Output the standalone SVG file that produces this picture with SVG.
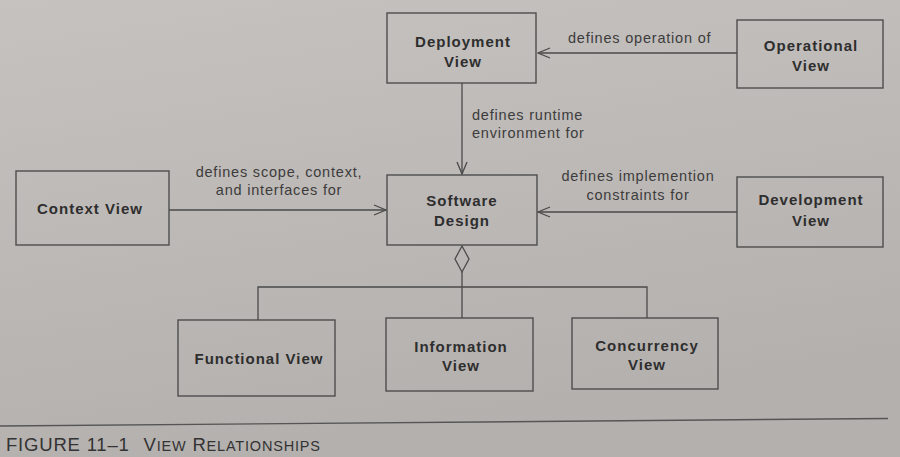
<svg xmlns="http://www.w3.org/2000/svg" width="900" height="457" viewBox="0 0 900 457">
<defs>
<linearGradient id="bg" x1="0" y1="0" x2="0.3" y2="1">
<stop offset="0" stop-color="#c6c2c0"/>
<stop offset="1" stop-color="#b4b0ae"/>
</linearGradient>
<marker id="open" viewBox="0 0 14 12" refX="13" refY="6" markerWidth="14" markerHeight="12" markerUnits="userSpaceOnUse" orient="auto">
<path d="M1,1 L13,6 L1,11" fill="none" stroke="#4a4a4a" stroke-width="1.3"/>
</marker>
</defs>
<style>
.box{fill:none;stroke:#4d4d4d;stroke-width:1.4}
.lbl{font-family:"Liberation Sans",Arial,sans-serif;font-size:15px;font-weight:bold;letter-spacing:1px;fill:#2e2e2e;text-anchor:middle}
.edge{font-family:"Liberation Sans",Arial,sans-serif;font-size:14.5px;letter-spacing:0.8px;fill:#3c3c3c}
.ln{fill:none;stroke:#4a4a4a;stroke-width:1.3}
.cap{font-family:"Liberation Sans",Arial,sans-serif;fill:#333;letter-spacing:0.8px}
</style>
<rect width="900" height="457" fill="url(#bg)"/>

<g id="connectors">
<line class="ln" x1="737" y1="53" x2="538" y2="53" marker-end="url(#open)"/>
<line class="ln" x1="462" y1="83" x2="462" y2="174" marker-end="url(#open)"/>
<line class="ln" x1="169" y1="210" x2="386" y2="210" marker-end="url(#open)"/>
<line class="ln" x1="737" y1="212" x2="538" y2="212" marker-end="url(#open)"/>
<polygon class="ln" points="462,246 469,259 462,272 455,259"/>
<line class="ln" x1="462" y1="272" x2="462" y2="318"/>
<polyline class="ln" points="258,320 258,287 647,287 647,318"/>
<text class="edge" x="568" y="43">defines operation of</text>
<text class="edge" x="472" y="120">defines runtime</text>
<text class="edge" x="472" y="138">environment for</text>
<text class="edge" x="279" y="177" text-anchor="middle">defines scope, context,</text>
<text class="edge" x="279" y="195" text-anchor="middle">and interfaces for</text>
<text class="edge" x="638" y="181" text-anchor="middle">defines implemention</text>
<text class="edge" x="638" y="200" text-anchor="middle">constraints for</text>
</g>

<g id="deployment">
<rect class="box" x="387" y="13" width="149" height="70"/>
<text class="lbl" x="463" y="47">Deployment</text>
<text class="lbl" x="463" y="67">View</text>
</g>
<g id="operational">
<rect class="box" x="737" y="20" width="146" height="68"/>
<text class="lbl" x="811" y="51">Operational</text>
<text class="lbl" x="811" y="71">View</text>
</g>
<g id="context">
<rect class="box" x="16" y="171" width="153" height="74"/>
<text class="lbl" x="90" y="214">Context View</text>
</g>
<g id="software">
<rect class="box" x="387" y="175" width="150" height="70"/>
<text class="lbl" x="462" y="206">Software</text>
<text class="lbl" x="462" y="226">Design</text>
</g>
<g id="development">
<rect class="box" x="737" y="177" width="146" height="70"/>
<text class="lbl" x="811" y="205">Development</text>
<text class="lbl" x="811" y="226">View</text>
</g>
<g id="functional">
<rect class="box" x="178" y="320" width="157" height="76"/>
<text class="lbl" x="259" y="364">Functional View</text>
</g>
<g id="information">
<rect class="box" x="386" y="318" width="147" height="73"/>
<text class="lbl" x="461" y="352">Information</text>
<text class="lbl" x="461" y="371">View</text>
</g>
<g id="concurrency">
<rect class="box" x="572" y="318" width="146" height="71"/>
<text class="lbl" x="647" y="351">Concurrency</text>
<text class="lbl" x="647" y="370">View</text>
</g>

<line x1="0" y1="426" x2="888" y2="418.5" stroke="#555" stroke-width="1.4"/>
<text class="cap" x="6" y="451" font-size="18.5">FIGURE 11–1 <tspan dx="8">V</tspan><tspan font-size="14.5">IEW</tspan> R<tspan font-size="14.5">ELATIONSHIPS</tspan></text>
</svg>
